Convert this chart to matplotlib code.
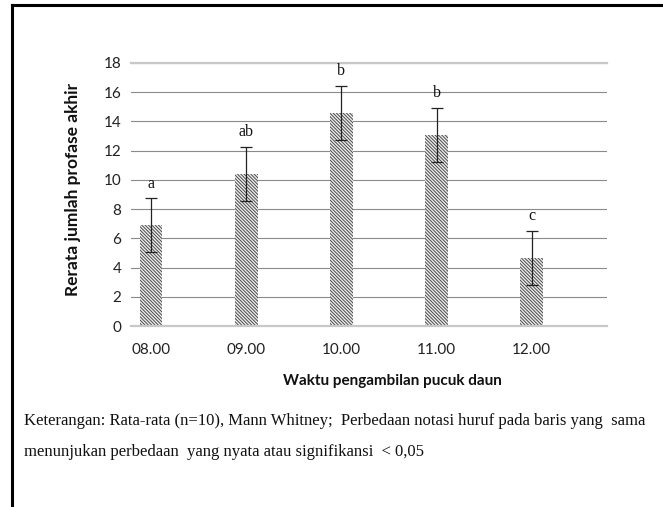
import matplotlib
matplotlib.use("Agg")
import matplotlib.pyplot as plt
from matplotlib.lines import Line2D
import numpy as np

# data
times = ["08.00", "09.00", "10.00", "11.00", "12.00"]
means = [6.9, 10.4, 14.6, 13.1, 4.65]
errors = [1.85, 1.85, 1.85, 1.85, 1.85]
letters = ["a", "ab", "b", "b", "c"]

SANS = ["Lato", "DejaVu Sans"]
SERIF = ["Liberation Serif", "DejaVu Serif"]

plt.rcParams["hatch.linewidth"] = 0.7

W, H = 663, 507
fig = plt.figure(figsize=(W / 100, H / 100), dpi=100)
fig.patch.set_facecolor("white")

# plot area: x 131..607, y 63..326 (pixels)
ax = fig.add_axes([131 / W, 1 - 326 / H, (607 - 131) / W, (326 - 63) / H])

x = np.arange(len(times))
ax.bar(x, means, 0.24, color="#eeeeee", edgecolor="#4a4a4a", linewidth=0,
       hatch="\\" * 10, zorder=2)
ax.errorbar(x, means, yerr=errors, fmt="none", ecolor="#222222",
            elinewidth=0.9, capsize=4, capthick=0.9, zorder=3)
for xi, m, e, lab in zip(x, means, errors, letters):
    ax.text(xi, m + e + 0.45, lab, ha="center", va="bottom",
            fontsize=11.5, family=SERIF, color="#111111")

ax.set_xlim(-0.21, 4.79)
ax.set_ylim(0, 18)
ax.set_yticks(np.arange(0, 19, 2))
ax.set_xticks(x)
ax.set_xticklabels(times)
ax.tick_params(length=0, labelsize=11, colors="#222222", pad=7)
for lbl in ax.get_xticklabels() + ax.get_yticklabels():
    lbl.set_family(SANS)
ax.tick_params(axis="x", pad=12)

ax.grid(True, axis="y", color="#8a8a8a", linewidth=0.8, zorder=0)
for s in ["left", "right"]:
    ax.spines[s].set_visible(False)
ax.spines["top"].set_color("#c8c8c8")
ax.spines["top"].set_linewidth(1.6)
ax.spines["bottom"].set_color("#c8c8c8")
ax.spines["bottom"].set_linewidth(1.6)

fig.text(73 / W, 1 - 189 / H, "Rerata jumlah profase akhir", rotation=90,
         ha="center", va="center", fontsize=12.5, fontweight="bold",
         family=SANS, color="#111111")
fig.text(392 / W, 1 - 381 / H, "Waktu pengambilan pucuk daun",
         ha="center", va="center", fontsize=11, fontweight="bold",
         family=SANS, color="#111111")

fig.text(24 / W, 1 - 421 / H,
         "Keterangan: Rata-rata (n=10), Mann Whitney;  Perbedaan notasi huruf pada baris yang  sama",
         ha="left", va="center", fontsize=12, family=SERIF, color="#111111")
fig.text(24 / W, 1 - 452 / H,
         "menunjukan perbedaan  yang nyata atau signifikansi  < 0,05",
         ha="left", va="center", fontsize=12, family=SERIF, color="#111111")

# outer frame (top and left only)
fig.add_artist(Line2D([12 / W, 1], [1 - 5 / H, 1 - 5 / H],
                      transform=fig.transFigure, color="black", linewidth=2.2))
fig.add_artist(Line2D([12 / W, 12 / W], [1 - 5 / H, 0],
                      transform=fig.transFigure, color="black", linewidth=2.2))

fig.savefig("out.png", dpi=100)
